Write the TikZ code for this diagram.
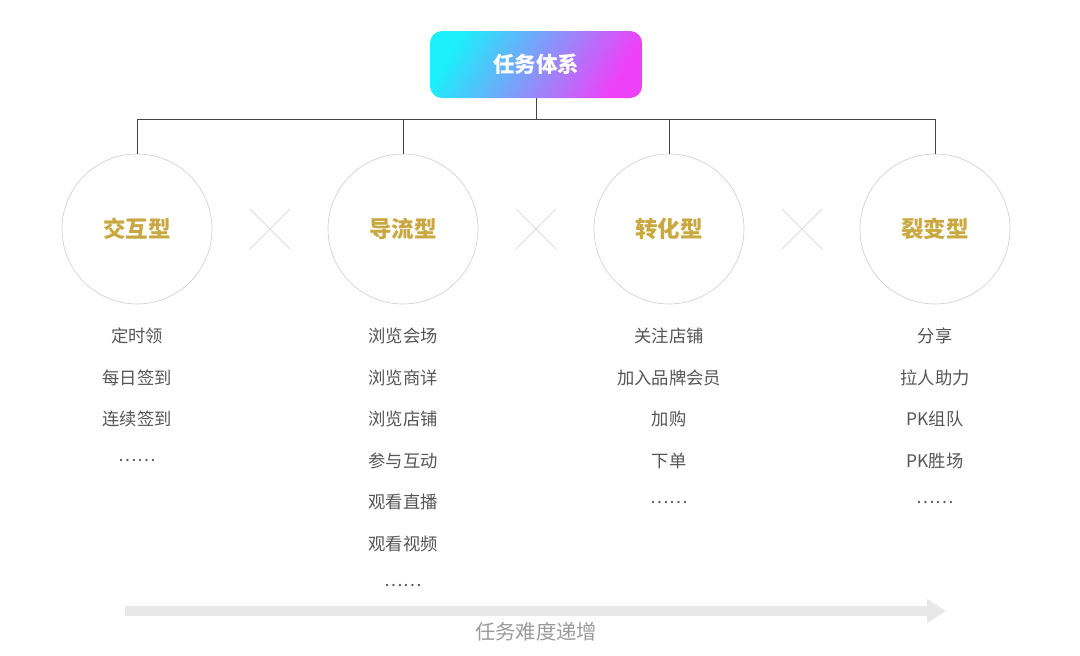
\documentclass[tikz,border=0pt]{standalone}
\usepackage{fontspec}
\usepackage{tikz}
\usetikzlibrary{arrows.meta,positioning}
\newfontfamily\cjk{Noto Sans CJK SC}
\definecolor{TopA}{HTML}{1CEEFA}
\definecolor{TopB}{HTML}{EF40F9}
\definecolor{Gold}{HTML}{C9A842}
\definecolor{Ink}{HTML}{555555}
\definecolor{Line}{HTML}{444444}
\definecolor{Ring}{HTML}{CCCCCC}
\definecolor{Cross}{HTML}{DDDDDD}
\definecolor{Band}{HTML}{E8E8E8}
\definecolor{Mute}{HTML}{9A9A9A}

\begin{document}
\begin{tikzpicture}[x=1pt,y=-1pt,
  rootbox/.style={rounded corners=12pt,minimum width=212pt,minimum height=67pt,
    left color=TopA,right color=TopB,shading angle=60,text=white,
    font=\cjk\fontsize{21.5}{26}\selectfont\bfseries},
  kindring/.style={circle,draw=Ring,line width=0.6pt,minimum size=150pt,text=Gold,
    font=\cjk\fontsize{22.5}{26}\selectfont\bfseries},
  itemtext/.style={text=Ink,font=\cjk\fontsize{17.3}{21}\selectfont},
  link/.style={draw=Line,line width=0.8pt}]
  \useasboundingbox (0,0) rectangle (1080,656);
  \node[rootbox] (root) at (536,64.5) {任务体系};
  \coordinate (bus) at (536,119);
  \foreach \c/\x/\lab in {1/137/交互型,2/403/导流型,3/669/转化型,4/935/裂变型} {
    \node[kindring] (k\c) at (\x,229) {\lab};
    \draw[link] (bus) -| (k\c.north);
  }
  \draw[link] (root.south) -- (bus);
  % crosses between the circles
  \foreach \x in {270,536,802} {
    \draw[Cross,line width=0.8pt] (\x-20,209) -- (\x+20,249);
    \draw[Cross,line width=0.8pt] (\x-20,249) -- (\x+20,209);
  }
  % task lists
  \foreach \c/\items in {
    1/{定时领,每日签到,连续签到,……},
    2/{浏览会场,浏览商详,浏览店铺,参与互动,观看直播,观看视频,……},
    3/{关注店铺,加入品牌会员,加购,下单,……},
    4/{分享,拉人助力,PK组队,PK胜场,……}} {
    \foreach \t [count=\k] in \items {
      \node[itemtext] (t\c-\k) at ([yshift={-107-41.6*(\k-1)}]k\c.center) {\t};
    }
  }
  % difficulty arrow
  \coordinate (a0) at (125,611);
  \coordinate (a1) at (946,611);
  \draw[Band,line width=10pt,-{Triangle[length=19pt,width=23pt]}] (a0) -- (a1);
  \node[text=Mute,font=\cjk\fontsize{20.3}{24}\selectfont] (lvl) at (536,632) {任务难度递增};
\end{tikzpicture}
\end{document}
